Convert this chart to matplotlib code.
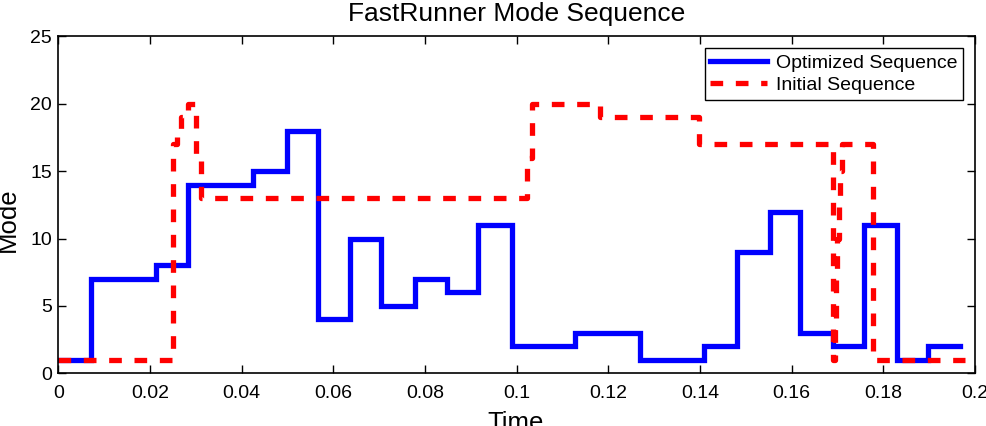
import matplotlib
matplotlib.use("Agg")
import matplotlib.pyplot as plt

plt.rcParams['font.family'] = ['Liberation Sans', 'DejaVu Sans']

# Optimized sequence (step, post)
opt_time = [0, 0.0072, 0.0214, 0.0283, 0.0425, 0.0498, 0.0567, 0.0636, 0.0705,
            0.0778, 0.0847, 0.0916, 0.0989, 0.1127, 0.1269, 0.1408, 0.148, 0.1553,
            0.1619, 0.1690, 0.1757, 0.1830, 0.1897, 0.1967]
opt_mode = [1, 7, 8, 14, 15, 18, 4, 10, 5, 7, 6, 11, 2, 3, 1, 2, 9, 12, 3, 2, 11,
            1, 2, 2]

# Initial sequence (step, post)
init_time = [0, 0.0250, 0.0258, 0.0268, 0.0283, 0.0300, 0.0311, 0.1023, 0.1033,
             0.1182, 0.1398, 0.1691, 0.1694, 0.1697, 0.1700, 0.1703, 0.1706,
             0.1709, 0.1777, 0.1978]
init_mode = [1, 17, 18, 19, 20, 16, 13, 16, 20, 19, 17, 1, 4, 7, 10, 13, 15,
             17, 1, 1]

x_ticks = [0, 0.02, 0.04, 0.06, 0.08, 0.1, 0.12, 0.14, 0.16, 0.18, 0.2]
x_tick_labels = ['0', '0.02', '0.04', '0.06', '0.08', '0.1', '0.12', '0.14',
                 '0.16', '0.18', '0.2']
y_ticks = [0, 5, 10, 15, 20, 25]

fig = plt.figure(figsize=(9.87, 4.26), dpi=100)
ax = fig.add_axes([0.0591, 0.1237, 0.9287, 0.7911])

ax.step(opt_time, opt_mode, where='post', color=(0, 0, 1), lw=3.8,
        label='Optimized Sequence', solid_joinstyle='miter')
ax.step(init_time, init_mode, where='post', color=(1, 0, 0), lw=3.8,
        linestyle=(0, (2.4, 2.4)), label='Initial Sequence')

ax.set_xlim(0, 0.2)
ax.set_ylim(0, 25)
ax.set_xticks(x_ticks)
ax.set_xticklabels(x_tick_labels)
ax.set_yticks(y_ticks)
ax.tick_params(direction='in', top=True, right=True, length=6, width=1,
               labelsize=14, colors='black')
ax.tick_params(axis='x', pad=8.5)
ax.tick_params(axis='y', pad=4.5)
for s in ax.spines.values():
    s.set_linewidth(1.2)
    s.set_color('black')

ax.set_title('FastRunner Mode Sequence', fontsize=19, pad=11)
ax.set_xlabel('Time', fontsize=18.5)
ax.set_ylabel('Mode', fontsize=18.5)
ax.xaxis.set_label_coords(0.499, -0.112)
ax.xaxis.label.set_va('top')
ax.yaxis.set_label_coords(-0.055, 0.455)
ax.yaxis.label.set_va('center')

leg = ax.legend(loc='upper right', fontsize=14, fancybox=False,
                edgecolor='black', framealpha=1, borderaxespad=0.62,
                handlelength=2.9, handletextpad=0.45, labelspacing=0.22,
                borderpad=0.3)
leg.get_frame().set_linewidth(1.0)

fig.savefig('out.png', dpi=100)
